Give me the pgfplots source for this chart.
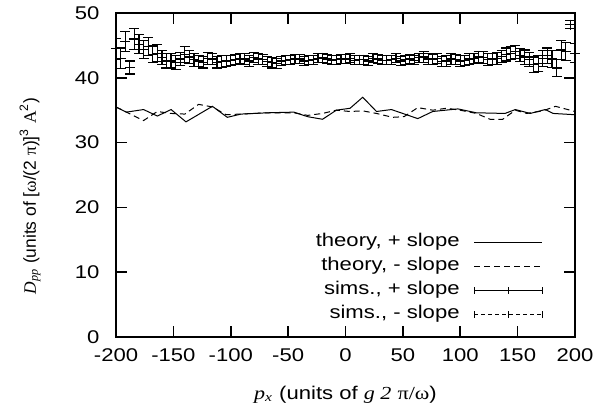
\documentclass[border=0pt]{standalone}
\usepackage{fontspec}
\setmainfont{Liberation Sans}[FakeStretch=1.2]
\newfontfamily\serif{Liberation Serif}[FakeStretch=1.2]
\newfontfamily\ysans{Liberation Sans}
\newfontfamily\yserif{Liberation Serif}
\usepackage{pgfplots}
\usepackage{pgfplotstable}
\pgfplotsset{compat=1.18}
\usetikzlibrary{calc}

\pgfplotstableread{
x y
-200 35.5
-191 34.7
-176 35.1
-164 34.1
-152 35.1
-139 33.2
-116 35.6
-103 33.9
-91 34.4
-68 34.6
-45 34.7
-33 34.0
-20 33.6
-8 35.0
4 35.3
15 37.0
27 34.8
40 35.1
63 33.7
76 34.8
98 35.2
114 34.6
139 34.5
148 35.1
161 34.5
174 35.1
181 34.5
200 34.3
}\theoryplus

\pgfplotstableread{
x y
-200 35.5
-176 33.4
-164 34.8
-152 34.5
-140 34.4
-128 35.9
-116 35.5
-104 34.3
-92 34.4
-68 34.6
-45 34.6
-33 34.2
-20 34.5
-8 35.0
4 34.8
15 34.9
27 34.5
41 33.9
51 34.0
63 35.4
76 35.0
88 35.3
100 35.0
114 34.5
126 33.6
137 33.6
148 35.0
158 34.5
172 34.9
183 35.6
200 34.8
}\theoryminus

\pgfplotstableread{
x y e
-200 44.5 1.6
-192 45.6 1.5
-184 46.0 1.6
-176 44.4 1.4
-168 43.6 1.3
-160 43.1 1.1
-152 42.6 1.1
-144 42.9 1.0
-136 43.2 1.0
-128 42.6 0.9
-120 43.0 0.9
-112 42.4 0.9
-104 42.6 0.8
-96 42.8 0.8
-88 42.9 0.8
-80 43.1 0.8
-72 42.8 0.8
-64 42.3 0.8
-56 42.6 0.7
-48 42.8 0.7
-40 42.9 0.7
-32 42.7 0.7
-24 43.0 0.7
-16 42.9 0.7
-8 42.8 0.7
0 42.9 0.7
8 42.7 0.7
16 42.8 0.7
24 43.0 0.7
32 42.7 0.7
40 42.8 0.7
48 42.6 0.7
56 42.9 0.7
64 43.1 0.7
72 42.9 0.8
80 43.0 0.8
88 42.6 0.8
96 42.8 0.8
104 42.7 0.8
112 43.0 0.8
120 43.1 0.9
128 42.9 0.9
136 43.3 0.9
144 43.8 1.0
152 43.5 1.0
160 42.8 1.1
168 42.2 1.2
176 43.4 1.2
184 41.5 1.3
192 44.1 1.4
200 43.8 1.5
}\simsplus

\pgfplotstableread{
x y e
-196 43.0 1.6
-188 41.6 1.0
-180 45.2 1.5
-172 44.8 1.4
-164 43.8 1.3
-156 42.6 1.1
-148 42.4 1.1
-140 43.6 1.2
-132 42.8 1.0
-124 42.4 0.9
-116 42.9 0.9
-108 42.5 0.9
-100 42.7 0.8
-92 43.0 0.8
-84 42.6 0.8
-76 42.9 0.8
-68 42.5 0.8
-60 42.2 0.8
-52 42.7 0.7
-44 42.9 0.7
-36 42.6 0.7
-28 42.8 0.7
-20 43.1 0.7
-12 42.7 0.7
-4 42.9 0.7
4 43.0 0.7
12 42.8 0.7
20 42.6 0.7
28 42.9 0.7
36 42.7 0.7
44 43.0 0.7
52 42.8 0.7
60 42.7 0.7
68 43.2 0.8
76 42.8 0.8
84 42.5 0.8
92 42.9 0.8
100 42.6 0.8
108 42.9 0.8
116 43.2 0.8
124 42.8 0.9
132 43.0 0.9
140 43.6 1.0
148 44.0 1.0
156 43.2 1.1
164 42.0 1.2
172 43.0 1.2
180 42.9 1.3
188 44.3 1.5
196 48.2 0.6
}\simsminus

\begin{document}
\fontsize{9.2}{11}\selectfont
\begin{tikzpicture}
\begin{axis}[name=ax, scale only axis, width=229.5pt, height=162pt,
  xmin=-200, xmax=200, ymin=0, ymax=50,
  xtick={-200,-150,-100,-50,0,50,100,150,200},
  xticklabels={-200,-150,-100,-50,0,50,100,150,200},
  ytick={0,10,20,30,40,50},
  yticklabels={0,10,20,30,40,50},
  tick align=inside, major tick length=5.5pt,
  axis line style={line width=0.8pt},
  every tick/.style={line width=0.8pt, black},
  tick label style={font=\fontsize{9.2}{11}\selectfont},
  xticklabel style={yshift=-2.75pt},
  yticklabel style={xshift=-5pt},
  every axis y label/.style={at={(rel axis cs:0,0.435)}, xshift=-43pt, rotate=90, anchor=center, font=\fontsize{8.7}{11}\selectfont\ysans},
  every axis x label/.style={at={(rel axis cs:0.5,0)}, yshift=-29pt, anchor=center, font=\fontsize{9.2}{11}\selectfont},
  ylabel={{\yserif\itshape D}\textsubscript{\yserif\itshape pp} (units of [{\yserif ω}/(2 {\yserif π})]\textsuperscript{3} {\yserif A}\textsuperscript{2})},
  xlabel={{\serif\itshape p}\textsubscript{\serif\itshape x} (units of {\serif\itshape g 2} {\serif π/ω})},
  legend plot pos=right,
  legend cell align=right,
  legend style={draw=none, fill=none, at={(rel axis cs:1,0)}, anchor=south east,
    xshift=-13pt, yshift=3.5pt, font=\fontsize{9.2}{11}\selectfont, row sep=0.5pt, column sep=6pt,
    nodes={inner sep=1pt, text height=7pt, text depth=2.5pt}},
]
\addplot[black, line width=0.5pt,
  legend image code/.code={\draw[black, line width=0.5pt] (0pt,0pt) -- (34pt,0pt);}]
  table[x=x, y=y] {\theoryplus};
\addlegendentry{theory, + slope}
\addplot[black, line width=0.5pt, dash pattern=on 3pt off 2pt,
  legend image code/.code={\draw[black, line width=0.5pt, dash pattern=on 3pt off 2pt] (0pt,0pt) -- (34pt,0pt);}]
  table[x=x, y=y] {\theoryminus};
\addlegendentry{theory, - slope}
\addplot[black, line width=0.6pt, only marks, mark=+, mark size=2.5pt,
  legend image code/.code={\draw[black, line width=0.5pt] (0pt,0pt) -- (34pt,0pt);
    \draw[black, line width=0.5pt] (0pt,-1.75pt) -- (0pt,1.75pt) (34pt,-1.75pt) -- (34pt,1.75pt) (17pt,-1.75pt) -- (17pt,1.75pt);},
  error bars/.cd, y dir=both, y explicit,
  error bar style={line width=0.6pt, black},
  error mark options={rotate=90, black, mark size=2.5pt, line width=0.6pt}]
  table[x=x, y=y, y error=e] {\simsplus};
\addlegendentry{sims., + slope}
\addplot[black, line width=0.6pt, only marks, mark=+, mark size=2.5pt,
  legend image code/.code={\draw[black, line width=0.5pt, dash pattern=on 2pt off 1.5pt] (0pt,0pt) -- (34pt,0pt);
    \draw[black, line width=0.5pt] (0pt,-1.75pt) -- (0pt,1.75pt) (34pt,-1.75pt) -- (34pt,1.75pt) (17pt,-1.75pt) -- (17pt,1.75pt);},
  error bars/.cd, y dir=both, y explicit,
  error bar style={line width=0.6pt, black},
  error mark options={rotate=90, black, mark size=2.5pt, line width=0.6pt}]
  table[x=x, y=y, y error=e] {\simsminus};
\addlegendentry{sims., - slope}
\end{axis}
\path ($(ax.south west)+(-58pt,-39pt)$) rectangle ($(ax.north east)+(19pt,6.5pt)$);
\end{tikzpicture}
\end{document}
